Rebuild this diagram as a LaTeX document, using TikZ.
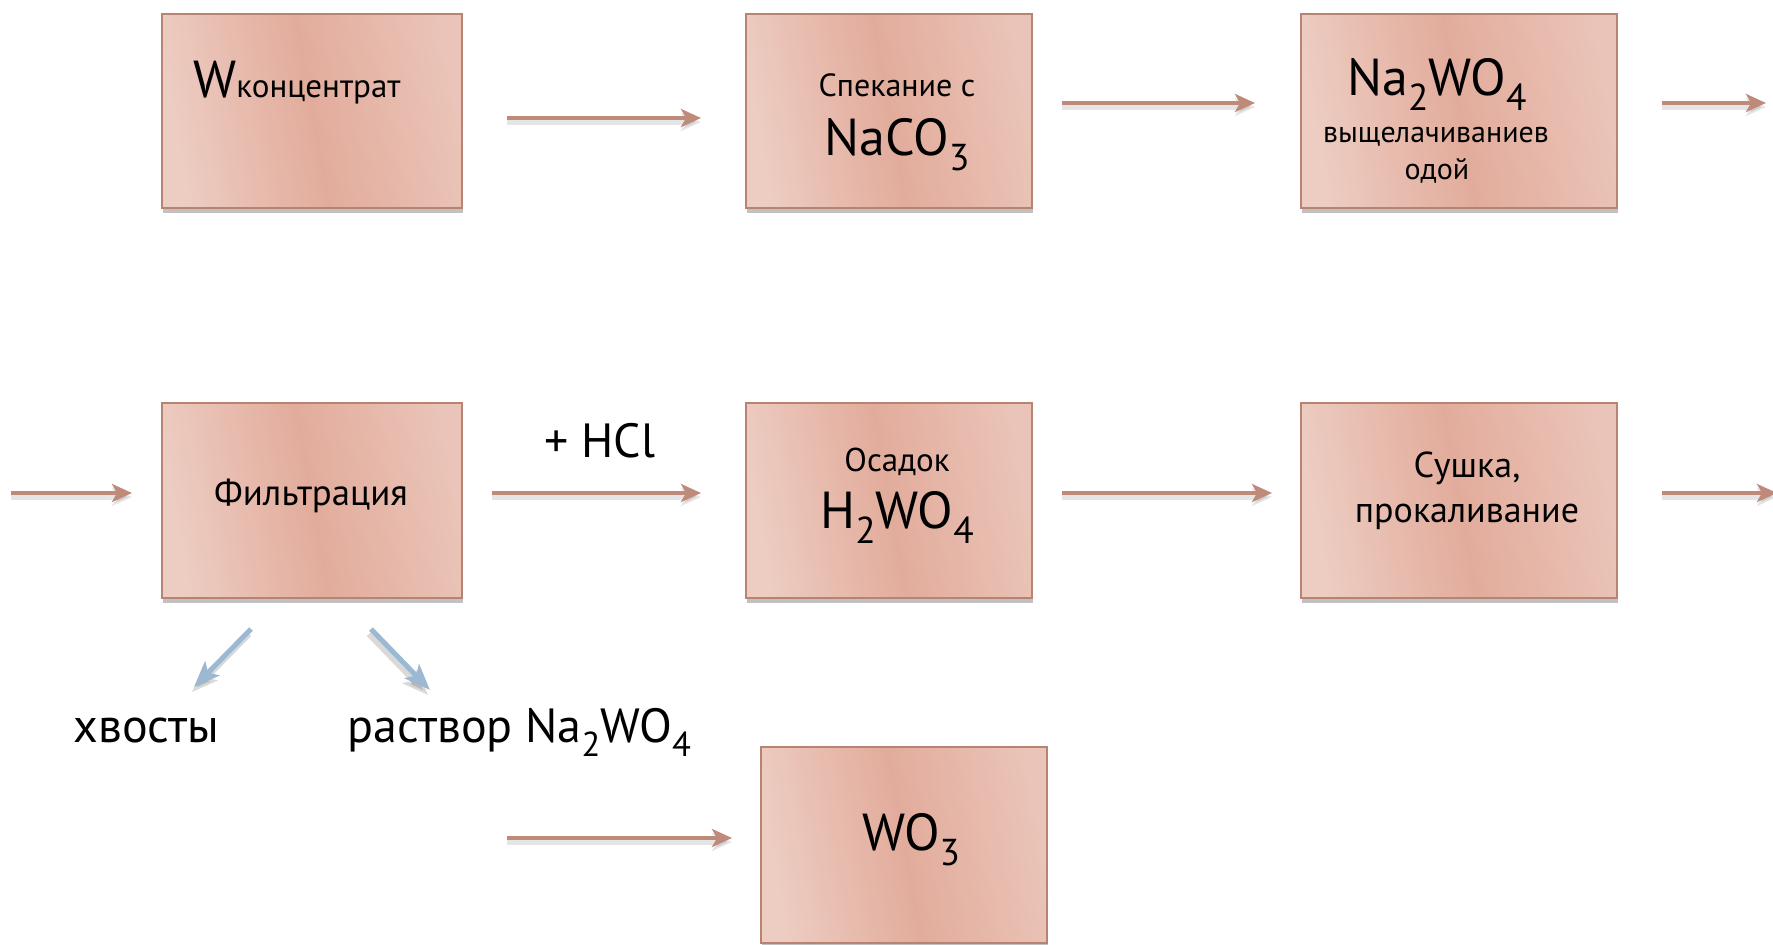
\documentclass[tikz,border=0pt]{standalone}
\usepackage{fontspec}
\usepackage{graphicx}
\setmainfont{PT Sans}
\usetikzlibrary{arrows.meta,shadows}
\definecolor{boxlight}{HTML}{EDCDC2}
\definecolor{boxmid}{HTML}{E2AC9C}
\definecolor{boxright}{HTML}{EAC4B8}
\definecolor{boxborder}{HTML}{B98373}
\definecolor{arrowcol}{HTML}{BF8A79}
\definecolor{bluearrow}{HTML}{9CB8D3}
\newcommand\subs[1]{\raisebox{-0.3em}{\scalebox{0.72}{#1}}}
\newcommand\fs[1]{\fontsize{#1}{#1}\selectfont}
\begin{document}
\begin{tikzpicture}[x=0.5pt,y=-0.5pt,
  procbox/.style={rectangle, draw=boxborder, line width=1pt,
    left color=boxlight, right color=boxright, middle color=boxmid,
    shading angle=100, inner sep=0pt,
    drop shadow={shadow xshift=0.5pt, shadow yshift=-2.5pt, opacity=0.35, fill=black!70}},
  flowarrow/.style={draw=arrowcol, line width=2pt,
    -{Stealth[length=10pt,width=9pt,inset=2.5pt]},
    preaction={draw=black, opacity=0.1, line width=3pt, transform canvas={yshift=-2pt}}},
  bluearr/.style={draw=bluearrow, line width=2.5pt,
    -{Stealth[length=13pt,width=10pt,inset=3pt]},
    preaction={draw=black, opacity=0.15, line width=3pt, transform canvas={xshift=-1pt,yshift=-2.5pt}}},
  lbl/.style={inner sep=0pt, anchor=base, text=black}
]
\useasboundingbox (0,0) rectangle (1773,944);

% boxes
\node[procbox, minimum width=150pt, minimum height=97pt] (b1) at (312,111) {};
\node[procbox, minimum width=143pt, minimum height=97pt] (b2) at (889,111) {};
\node[procbox, minimum width=158pt, minimum height=97pt] (b3) at (1459,111) {};
\node[procbox, minimum width=150pt, minimum height=97.5pt] (b4) at (312,500.5) {};
\node[procbox, minimum width=143pt, minimum height=97.5pt] (b5) at (889,500.5) {};
\node[procbox, minimum width=158pt, minimum height=97.5pt] (b6) at (1459,500.5) {};
\node[procbox, minimum width=143pt, minimum height=98pt] (b7) at (904,845) {};

% texts
\node[lbl, anchor=base west] (t1) at (193,97) {\fs{26}W\fs{16.5}концентрат};
\node[lbl] (t2a) at (897,96) {\fs{16}Спекание с};
\node[lbl] (t2b) at (897,155) {\fs{26}NaCO\subs{3}};
\node[lbl] (t3a) at (1437,95) {\fs{26}Na\subs{2}WO\subs{4}};
\node[lbl] (t3b) at (1436,142) {\fs{15}выщелачиваниев};
\node[lbl] (t3c) at (1437,179) {\fs{15}одой};
\node[lbl] (t4) at (311,505) {\fs{18.4}Фильтрация};
\node[lbl] (t5) at (600,457) {\fs{24}+ HCl};
\node[lbl] (t6a) at (897,471) {\fs{16.5}Осадок};
\node[lbl] (t6b) at (897,528) {\fs{26}H\subs{2}WO\subs{4}};
\node[lbl] (t7a) at (1467,477) {\fs{18}Сушка,};
\node[lbl] (t7b) at (1467,522) {\fs{18}прокаливание};
\node[lbl, anchor=base west] (t8) at (73,742) {\fs{24}хвосты};
\node[lbl, anchor=base west] (t9) at (347,742) {\fs{24}раствор Na\subs{2}WO\subs{4}};
\node[lbl] (t10) at (911,850) {\fs{26}WO\subs{3}};

% arrow end points
\coordinate (a1s) at (507,118);  \coordinate (a1e) at (701,118);
\coordinate (a2s) at (1062,103); \coordinate (a2e) at (1255,103);
\coordinate (a3s) at (1662,103); \coordinate (a3e) at (1766,103);
\coordinate (a4s) at (11,493);   \coordinate (a4e) at (132,493);
\coordinate (a5s) at (492,493);  \coordinate (a5e) at (701,493);
\coordinate (a6s) at (1062,493); \coordinate (a6e) at (1272,493);
\coordinate (a7s) at (1662,493); \coordinate (a7e) at (1777,493);
\coordinate (a8s) at (507,838);  \coordinate (a8e) at (732,838);
\coordinate (c1s) at (251,629);  \coordinate (c1e) at (194,687);
\coordinate (c2s) at (371,629);  \coordinate (c2e) at (430,690);

\draw[flowarrow] (a1s) -- (a1e);
\draw[flowarrow] (a2s) -- (a2e);
\draw[flowarrow] (a3s) -- (a3e);
\draw[flowarrow] (a4s) -- (a4e);
\draw[flowarrow] (a5s) -- (a5e);
\draw[flowarrow] (a6s) -- (a6e);
\draw[flowarrow] (a7s) -- (a7e);
\draw[flowarrow] (a8s) -- (a8e);
\draw[bluearr] (c1s) -- (c1e);
\draw[bluearr] (c2s) -- (c2e);
\end{tikzpicture}
\end{document}
